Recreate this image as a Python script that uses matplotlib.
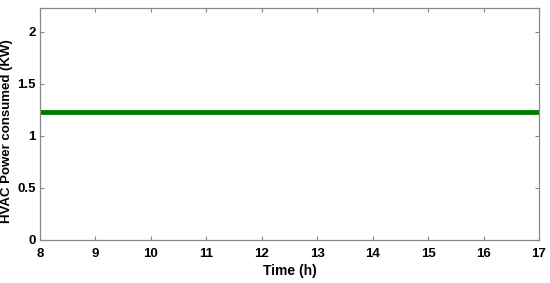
import matplotlib
matplotlib.use("Agg")
import matplotlib.pyplot as plt

hours = [8, 9, 10, 11, 12, 13, 14, 15, 16, 17]
power_kw = [1.23, 1.23, 1.23, 1.23, 1.23, 1.23, 1.23, 1.23, 1.23, 1.23]
xticks = [8, 9, 10, 11, 12, 13, 14, 15, 16, 17]
yticks = [0, 0.5, 1, 1.5, 2]
ytick_labels = ["0", "0.5", "1", "1.5", "2"]

plt.rcParams['font.family'] = ['Liberation Sans', 'DejaVu Sans']
fig = plt.figure(figsize=(5.5, 2.83), dpi=100)
ax = fig.add_axes([40/550, 1-240/283, (539-40)/550, (240-8)/283])
ax.plot(hours, power_kw, color='#007a00', linewidth=3.5)
ax.set_xlim(8, 17)
ax.set_ylim(0, 2.23)
ax.set_xticks(xticks)
ax.set_xticklabels([str(t) for t in xticks], fontweight='bold', fontsize=9.5)
ax.set_yticks(yticks)
ax.set_yticklabels(ytick_labels, fontweight='bold', fontsize=9.5)
ax.tick_params(direction='in', top=True, right=True, length=3, color='#888888', width=0.8)
ax.tick_params(axis='x', pad=6)
ax.tick_params(axis='y', pad=3)
for s in ax.spines.values():
    s.set_color('#888888')
    s.set_linewidth(0.9)
ax.set_xlabel('Time (h)', fontweight='bold', fontsize=10, labelpad=3)
ax.set_ylabel('HVAC Power consumed (KW)', fontweight='bold', fontsize=9.5)
ax.yaxis.set_label_coords(-0.054, 0.47)
fig.savefig('out.png', dpi=100)
